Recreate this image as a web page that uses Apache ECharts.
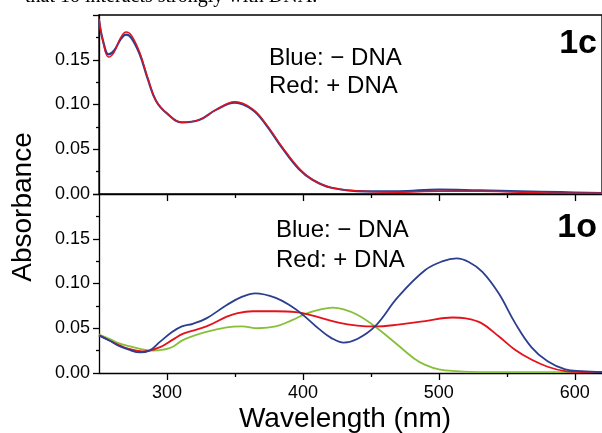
<!DOCTYPE html>
<html>
<head>
<meta charset="utf-8">
<script src="https://cdn.jsdelivr.net/npm/echarts@6/dist/echarts.min.js"></script>
<style>
html,body{margin:0;padding:0;background:#fff;}
#chart{width:602px;height:433px;}
</style>
</head>
<body>
<div id="chart"></div>
<script>
// Top panel (1c): [wavelength nm, absorbance]
const topBlue = [[250,0.194],[253,0.171],[257,0.156],[261,0.160],[266,0.173],[270,0.178],[274,0.174],[280,0.156],[286,0.128],[292,0.104],[300,0.090],[311,0.080],[324,0.083],[336,0.094],[350,0.102],[363,0.094],[373,0.077],[385,0.051],[397,0.028],[407,0.016],[421,0.007],[446,0.003],[470,0.003],[500,0.005],[530,0.004],[560,0.003],[590,0.002],[620,0.001]];
const topRed = [[250,0.196],[253,0.170],[257,0.153],[261,0.158],[266,0.175],[270,0.181],[274,0.177],[280,0.158],[286,0.129],[292,0.104],[300,0.090],[311,0.080],[324,0.083],[336,0.094],[350,0.103],[363,0.095],[373,0.078],[385,0.052],[397,0.029],[407,0.016],[421,0.007],[446,0.003],[470,0.002],[500,0.003],[530,0.003],[560,0.002],[590,0.001],[620,0.001]];
// Bottom panel (1o)
const botBlue = [[250,0.042],[258,0.036],[265,0.030],[272,0.026],[280,0.023],[287,0.025],[295,0.035],[304,0.046],[311,0.052],[319,0.055],[329,0.061],[344,0.076],[355,0.085],[365,0.089],[380,0.084],[392,0.074],[400,0.065],[412,0.049],[421,0.039],[430,0.034],[440,0.038],[453,0.052],[470,0.085],[490,0.115],[503,0.125],[513,0.128],[522,0.124],[532,0.113],[544,0.089],[556,0.056],[568,0.029],[580,0.013],[593,0.004],[605,0.002],[620,0.001]];
const botRed = [[250,0.042],[258,0.036],[265,0.031],[272,0.027],[282,0.024],[295,0.029],[304,0.037],[312,0.044],[329,0.052],[344,0.063],[352,0.067],[363,0.069],[380,0.069],[395,0.068],[405,0.065],[427,0.056],[440,0.053],[453,0.052],[470,0.054],[490,0.058],[510,0.062],[520,0.061],[531,0.056],[544,0.041],[556,0.026],[568,0.015],[580,0.007],[593,0.002],[605,0.001],[620,0.001]];
const botGreen = [[250,0.043],[258,0.038],[265,0.033],[272,0.030],[280,0.027],[290,0.025],[297,0.026],[304,0.029],[312,0.037],[329,0.046],[344,0.051],[355,0.052],[367,0.050],[380,0.052],[392,0.059],[402,0.066],[413,0.071],[422,0.073],[430,0.071],[440,0.065],[453,0.052],[470,0.031],[482,0.016],[490,0.009],[500,0.004],[513,0.002],[530,0.001],[620,0.001]];
const xMajorTicks = [300,400,500,600];
const xMinorTicks = [350,450,550];
const yTickLabels = ['0.00','0.05','0.10','0.15'];

const FONT = "'Liberation Sans', Arial, sans-serif";
const chart = echarts.init(document.getElementById('chart'));
const lineBlack = {color:'#000', width:1.3};

function mainX(i){
  return {type:'value', gridIndex:i, min:250, max:620, interval:50,
    axisLine:{show:true, onZero:false, lineStyle:lineBlack},
    axisTick:{show:true, length:7, customValues:xMajorTicks, lineStyle:lineBlack},
    axisLabel:{show:i===1, customValues:xMajorTicks, color:'#000', fontSize:18, fontFamily:FONT, margin:11},
    splitLine:{show:false}};
}
function minorX(i){
  return {type:'value', gridIndex:i, min:250, max:620, interval:50, position:'bottom',
    axisLine:{show:false},
    axisTick:{show:true, length:4, customValues:xMinorTicks, lineStyle:lineBlack},
    axisLabel:{show:false}, splitLine:{show:false}};
}
function yAx(i){
  return {type:'value', gridIndex:i, min:0, max:0.2, interval:0.05,
    axisLine:{show:true, onZero:false, lineStyle:lineBlack},
    axisTick:{show:true, length:6, lineStyle:lineBlack},
    minorTick:{show:true, splitNumber:2, length:3, lineStyle:lineBlack},
    axisLabel:{color:'#000', fontSize:18, fontFamily:FONT, margin:9,
      formatter:function(v){ const k=Math.round(v/0.05); return k<yTickLabels.length ? yTickLabels[k] : ''; }},
    splitLine:{show:false}};
}
function ser(data, color, xi, yi, w){
  return {type:'line', data:data, xAxisIndex:xi, yAxisIndex:yi, symbol:'none', smooth:0.4,
    lineStyle:{color:color, width:w}, silent:true, animation:false};
}
const BLUE='#2b3f8e', RED='#e3121c', GREEN='#86c03a';

chart.setOption({
  animation:false,
  backgroundColor:'#fff',
  grid:[
    {left:99, top:15, right:-2, height:179, show:true, borderColor:'#000', borderWidth:1.3},
    {left:99, top:194, right:-2, height:179, show:false}
  ],
  xAxis:[mainX(0), mainX(1), minorX(0), minorX(1)],
  yAxis:[yAx(0), yAx(1)],
  series:[
    ser(topBlue, BLUE, 0, 0, 2.2),
    ser(topRed, RED, 0, 0, 1.4),
    ser(botGreen, GREEN, 1, 1, 1.8),
    ser(botRed, RED, 1, 1, 1.8),
    ser(botBlue, BLUE, 1, 1, 1.8)
  ],
  graphic:[
    {type:'text', x:25, y:-13, style:{text:'that 1o interacts strongly with DNA.', font:"20px 'Liberation Serif', serif", fill:'#000', verticalAlign:'top'}},
    {type:'text', x:269, y:58, style:{text:'Blue: \u2212 DNA', font:'24px '+FONT, fill:'#000', verticalAlign:'middle'}},
    {type:'text', x:269, y:86, style:{text:'Red: + DNA', font:'24px '+FONT, fill:'#000', verticalAlign:'middle'}},
    {type:'text', x:597, y:44, style:{text:'1c', font:'bold 34px '+FONT, fill:'#000', align:'right', verticalAlign:'middle'}},
    {type:'text', x:276, y:230, style:{text:'Blue: \u2212 DNA', font:'24px '+FONT, fill:'#000', verticalAlign:'middle'}},
    {type:'text', x:276, y:260, style:{text:'Red: + DNA', font:'24px '+FONT, fill:'#000', verticalAlign:'middle'}},
    {type:'text', x:597, y:228, style:{text:'1o', font:'bold 34px '+FONT, fill:'#000', align:'right', verticalAlign:'middle'}},
    {type:'text', x:345, y:419, style:{text:'Wavelength (nm)', font:'28px '+FONT, fill:'#000', align:'center', verticalAlign:'middle'}},
    {type:'text', x:23, y:207, rotation:Math.PI/2, style:{text:'Absorbance', font:'28px '+FONT, fill:'#000', align:'center', verticalAlign:'middle'}}
  ]
});
</script>
</body>
</html>
